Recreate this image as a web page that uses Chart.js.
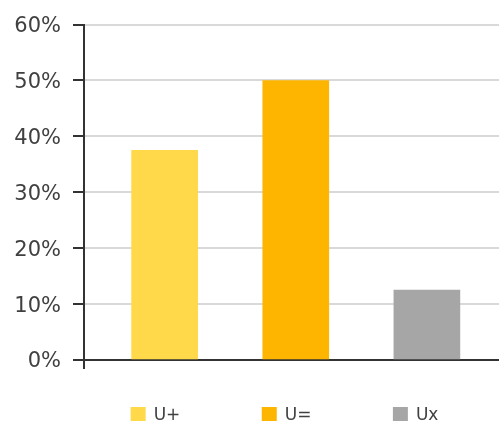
<!DOCTYPE html>
<html>
<head>
<meta charset="utf-8">
<script src="https://cdn.jsdelivr.net/npm/chart.js@4/dist/chart.umd.min.js"></script>
<style>
  html, body { margin: 0; padding: 0; background: #ffffff; overflow: hidden; }
  #wrap { width: 499px; height: 421px; }
</style>
</head>
<body>
<div id="wrap"><canvas id="chart" width="499" height="421"></canvas></div>
<script>
// Shares per response category
const categories = ['U+', 'U=', 'Ux'];
const shares = [37.5, 50, 12.5];
const barColors = ['#FFD94A', '#FDB500', '#A6A6A6'];
const yTicks = [0, 10, 20, 30, 40, 50, 60];

const textColor = '#404040';
const axisColor = '#333333';
const gridColor = '#D9D9D9';

// Key row under the bars: one swatch per category, lined up with its bar
const bottomKey = {
  id: 'bottomKey',
  afterDraw(chart) {
    const ctx = chart.ctx;
    const ds = chart.data.datasets[0];
    const bars = chart.getDatasetMeta(0).data;
    ctx.save();
    ctx.font = '17px "DejaVu Sans"';
    ctx.textBaseline = 'alphabetic';
    chart.data.labels.forEach((name, i) => {
      const bar = bars[i];
      const left = bar.x - bar.width / 2 - 1;
      ctx.fillStyle = ds.backgroundColor[i];
      ctx.fillRect(left, 407, 15, 15);
      ctx.fillStyle = textColor;
      ctx.fillText(name, left + 23, 420);
    });
    ctx.restore();
  }
};

new Chart(document.getElementById('chart'), {
  type: 'bar',
  data: {
    labels: categories,
    datasets: [{
      label: 'Share',
      data: categories.map((c, i) => ({ x: i, y: shares[i] })),
      backgroundColor: barColors,
      borderWidth: 0,
      barThickness: 66
    }]
  },
  plugins: [bottomKey],
  options: {
    responsive: false,
    animation: false,
    layout: { padding: { top: 22, right: 0, bottom: 52, left: 0 } },
    plugins: {
      legend: { display: false },
      tooltip: { enabled: false }
    },
    scales: {
      x: {
        type: 'linear',
        offset: false,
        min: -0.615,
        max: 2.55,
        afterBuildTicks: (scale) => { scale.ticks = [{ value: scale.min }]; },
        afterFit: (scale) => { scale.height = 9; },
        ticks: { display: false },
        grid: {
          offset: false,
          drawOnChartArea: false,
          drawTicks: true,
          tickLength: 9,
          tickColor: axisColor,
          lineWidth: 2
        },
        border: { display: true, color: axisColor, width: 2 }
      },
      y: {
        min: 0,
        max: 60,
        afterBuildTicks: (scale) => { scale.ticks = yTicks.map(v => ({ value: v })); },
        afterFit: (scale) => { scale.width = 84; },
        ticks: {
          padding: 12,
          labelOffset: 2,
          color: textColor,
          font: { family: '"DejaVu Sans"', size: 21 },
          callback: (v) => v + '%'
        },
        grid: {
          color: gridColor,
          lineWidth: 2,
          tickLength: 11,
          tickColor: axisColor
        },
        border: { display: true, color: axisColor, width: 2 }
      }
    }
  }
});
</script>
</body>
</html>
